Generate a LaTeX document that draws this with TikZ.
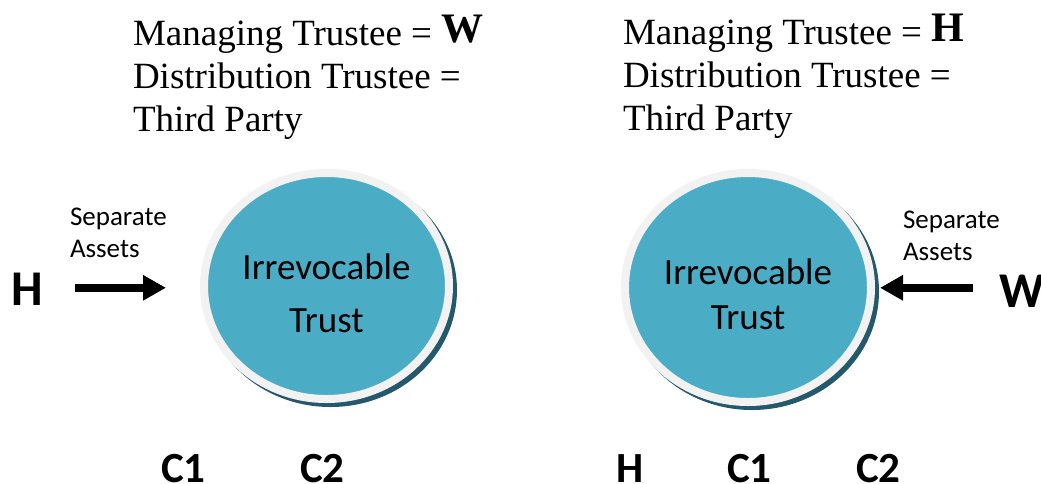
\documentclass[tikz,border=0pt]{standalone}
\usepackage{fontspec}
\setmainfont{Liberation Serif}
\newfontfamily\calfont{Carlito}
\usetikzlibrary{arrows.meta,shapes.geometric}
\definecolor{trustblue}{HTML}{4BACC6}
\definecolor{ringgray}{HTML}{F2F2F2}
\definecolor{shadowteal}{HTML}{23596A}
% raised bold initial after "Managing Trustee ="
\newcommand{\trusteeinitial}[1]{\raisebox{3pt}{\fontsize{42}{42}\selectfont\textbf{#1}}}
\tikzset{
  plain/.style={inner sep=0pt, outer sep=0pt},
  % multi-line texts are placed by the baseline of their last line
  titletext/.style={plain, anchor=base west, align=left,
    font=\fontsize{37}{43}\selectfont},
  assets/.style={plain, anchor=base west, align=left,
    font=\calfont\fontsize{27}{32}\selectfont},
  person/.style={plain, anchor=base west,
    font=\calfont\bfseries\fontsize{50}{56}\selectfont},
  child/.style={plain, anchor=base west,
    font=\calfont\bfseries\fontsize{43}{50}\selectfont},
  trust/.style={ellipse, fill=trustblue, draw=ringgray, line width=8pt,
    outer sep=0pt, inner sep=0pt, align=center,
    preaction={draw=shadowteal, fill=shadowteal, line width=8pt,
      transform canvas={shift={(4pt,-4pt)}}}},
  bigarrow/.style={line width=8pt, -{Triangle[length=23pt, width=24pt]}}
}
\begin{document}
\begin{tikzpicture}[x=1pt, y=-1pt]
\useasboundingbox (0,0) rectangle (1041,483);

% left arrangement
\node[titletext] (ltitle) at (133,131)
  {Managing Trustee = \trusteeinitial{W}\\Distribution Trustee =\\Third Party};
\node[trust, minimum width=245pt, minimum height=226pt,
  font=\calfont\fontsize{37}{53}\selectfont] (tl) at (326.5,286)
  {\rule{0pt}{41pt}Irrevocable\\Trust};
\node[assets] (lassets) at (70,257) {Separate\\Assets};
\node[person] (hl) at (12,305) {H};
\draw[bigarrow, shorten <=31pt, shorten >=38pt]
  ([yshift=1pt]hl.east) -- ([yshift=1pt]hl.east -| tl.west);
\node[child] (lc1) at (161,482) {C1};
\node[child] (lc2) at (300,482) {C2};

% right arrangement
\node[titletext] (rtitle) at (623,130)
  {Managing Trustee = \trusteeinitial{H}\\Distribution Trustee =\\Third Party};
\node[trust, minimum width=246pt, minimum height=229pt,
  font=\calfont\fontsize{37}{45}\selectfont] (tr) at (748,287.5)
  {\rule{0pt}{39pt}Irrevocable\\Trust};
\node[assets] (rassets) at (903,260) {Separate\\Assets};
\node[person] (wr) at (999,307) {W};
\draw[bigarrow, shorten <=26pt, shorten >=9pt]
  ([yshift=3pt]wr.west) -- ([yshift=3pt]wr.west -| tr.east);
\node[child] (rh) at (616,482) {H};
\node[child] (rc1) at (727,482) {C1};
\node[child] (rc2) at (856,482) {C2};
\end{tikzpicture}
\end{document}
